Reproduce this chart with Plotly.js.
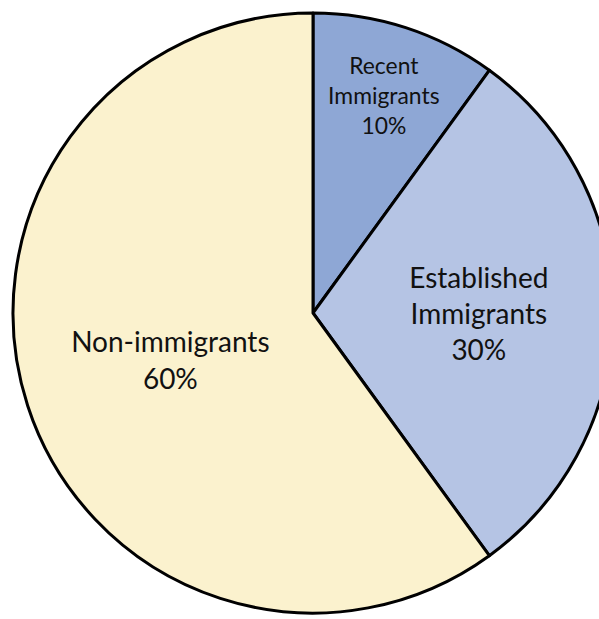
<!DOCTYPE html>
<html>
<head>
<meta charset="utf-8">
<script src="https://cdn.plot.ly/plotly-3.0.1.min.js"></script>
<style>
html,body{margin:0;padding:0;overflow:hidden;background:#fff;width:599px;height:619px;}
#chart{width:626px;height:626px;}
</style>
</head>
<body>
<div id="chart"></div>
<script>
const categories = ["Recent<br>Immigrants", "Established<br>Immigrants", "Non-immigrants"];
const shares = [10, 30, 60];
const sliceColors = ["#8ea7d5", "#b5c4e4", "#fbf2ce"];

const trace = {
  type: "pie",
  labels: categories,
  values: shares,
  sort: false,
  direction: "clockwise",
  rotation: 0,
  marker: {colors: sliceColors, line: {color: "#000", width: 3}},
  texttemplate: "%{label}<br>%{percent:.0%}",
  textposition: "inside",
  insidetextorientation: "horizontal",
  textfont: {family: "Lato, 'Open Sans', sans-serif", size: 28, color: "#111"},
  hoverinfo: "none",
  showlegend: false
};

const layout = {
  width: 626,
  height: 626,
  margin: {l: 13, r: 13, t: 13, b: 13},
  paper_bgcolor: "#fff",
  showlegend: false
};

Plotly.newPlot("chart", [trace], layout, {staticPlot: true});
</script>
</body>
</html>
